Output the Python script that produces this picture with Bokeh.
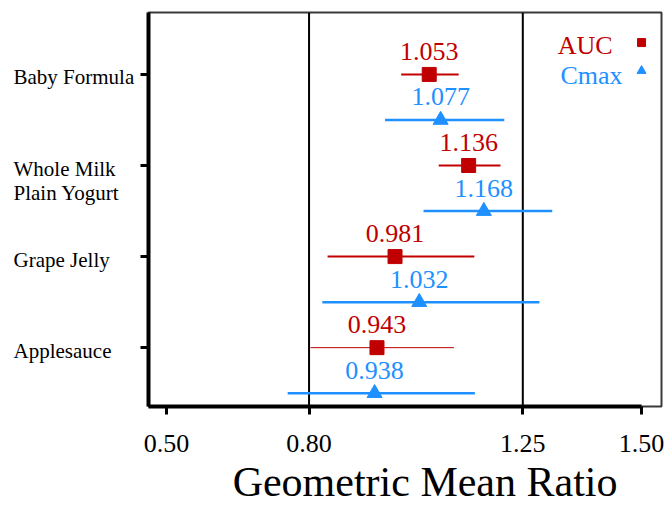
from bokeh.plotting import figure
from bokeh.layouts import row
from bokeh.models import ColumnDataSource, Range1d, FixedTicker, Span, Title
from bokeh.core.properties import value
from bokeh.embed import file_html
from bokeh.resources import INLINE

# ---- data -------------------------------------------------------------
categories = ["Baby Formula", "Whole Milk\nPlain Yogurt", "Grape Jelly", "Applesauce"]

auc_gmr = [1.053, 1.136, 0.981, 0.943]
auc_lo = [0.994, 1.073, 0.839, 0.803]
auc_hi = [1.115, 1.203, 1.148, 1.105]

cmax_gmr = [1.077, 1.168, 1.032, 0.938]
cmax_lo = [0.960, 1.041, 0.828, 0.755]
cmax_hi = [1.211, 1.312, 1.285, 1.149]

x_ticks = [0.50, 0.80, 1.25, 1.50]
x_tick_labels = ["0.50", "0.80", "1.25", "1.50"]
ref_limits = [0.80, 1.25]
x_title = "Geometric Mean Ratio"

# ---- styling / layout -------------------------------------------------
RED = "#C00000"
BLUE = "#1E90FF"
SERIF = "Liberation Serif"

W, H = 667, 506
NAMES_W = 136          # column holding the category names
TOP, BOTTOM = 12, 99

X_START, X_END = 0.462, 1.542
n = len(categories)
cat_y = [n - 1 - i for i in range(n)]          # top to bottom
cmax_y = [y - 0.5 for y in cat_y]
auc_width = [1 if c == "Applesauce" else 2 for c in categories]

y_range = Range1d(-0.646, 3.68)

auc_src = ColumnDataSource(dict(
    y=cat_y, gmr=auc_gmr, lo=auc_lo, hi=auc_hi, w=auc_width,
    label=[f"{v:.3f}" for v in auc_gmr]))
cmax_src = ColumnDataSource(dict(
    y=cmax_y, gmr=cmax_gmr, lo=cmax_lo, hi=cmax_hi,
    label=[f"{v:.3f}" for v in cmax_gmr]))

# ---- category names panel ---------------------------------------------
names = figure(width=NAMES_W, height=H, output_backend="svg", toolbar_location=None,
               x_range=Range1d(0, 1), y_range=y_range,
               min_border_left=0, min_border_right=0,
               min_border_top=TOP, min_border_bottom=BOTTOM)
names.axis.visible = False
names.grid.visible = False
names.outline_line_color = None
names.text(x=[0] * n, y=cat_y, text=categories, text_color="black",
           text_font=value(SERIF), text_font_size="21px",
           text_align="left", text_baseline="top", text_line_height=1.0,
           x_offset=13, y_offset=-9)

# ---- main chart -------------------------------------------------------
p = figure(width=W - NAMES_W, height=H, output_backend="svg", toolbar_location=None,
           x_range=Range1d(X_START, X_END), y_range=y_range,
           min_border_left=12, min_border_right=6,
           min_border_top=TOP, min_border_bottom=BOTTOM)
p.background_fill_color = "white"
p.border_fill_color = "white"
p.outline_line_color = "#3a3a3a"
p.outline_line_width = 2
p.xgrid.visible = False
p.ygrid.visible = False

# reference limits
for lim in ref_limits:
    p.add_layout(Span(location=lim, dimension="height", line_color="black",
                      line_width=2, level="underlay"))

# confidence intervals
p.segment(x0="lo", y0="y", x1="hi", y1="y", source=auc_src,
          line_color=RED, line_width="w")
p.segment(x0="lo", y0="y", x1="hi", y1="y", source=cmax_src,
          line_color=BLUE, line_width=2.5)

# point estimates
p.scatter(x="gmr", y="y", source=auc_src, marker="square", size=14,
          fill_color=RED, line_color=RED)
p.scatter(x="gmr", y="y", source=cmax_src, marker="triangle", size=15,
          fill_color=BLUE, line_color=BLUE)

# value labels
for src, col in ((auc_src, RED), (cmax_src, BLUE)):
    p.text(x="gmr", y="y", text="label", source=src, text_color=col,
           text_font=value(SERIF), text_font_size="26px",
           text_align="center", text_baseline="middle", y_offset=-23)

# legend (text followed by marker)
p.text(x=[1.439], y=[3.318], text=["AUC"], text_color=RED,
       text_font=value(SERIF), text_font_size="26px",
       text_align="right", text_baseline="middle")
p.text(x=[1.460], y=[2.99], text=["Cmax"], text_color=BLUE,
       text_font=value(SERIF), text_font_size="26px",
       text_align="right", text_baseline="middle")
p.scatter(x=[1.5], y=[3.35], marker="square", size=8, color=RED)
p.scatter(x=[1.5], y=[3.04], marker="triangle", size=9, color=BLUE)

# x axis
xa = p.xaxis[0]
xa.ticker = FixedTicker(ticks=x_ticks)
xa.major_label_overrides = {t: s for t, s in zip(x_ticks, x_tick_labels)}
xa.bounds = (X_START, x_ticks[-1])
xa.axis_line_width = 4
xa.axis_line_color = "black"
xa.major_tick_line_width = 3
xa.major_tick_out = 8
xa.major_tick_in = 0
xa.minor_tick_line_color = None
xa.major_label_text_font = SERIF
xa.major_label_text_font_size = "26px"
xa.major_label_text_color = "black"
xa.major_label_standoff = 20

# y axis: tick marks only, the names sit in the panel to the left
ya = p.yaxis[0]
ya.ticker = FixedTicker(ticks=cat_y)
ya.major_label_overrides = {y: "" for y in cat_y}
ya.major_label_standoff = 0
ya.axis_line_width = 4
ya.axis_line_color = "black"
ya.major_tick_line_width = 3
ya.major_tick_out = 8
ya.major_tick_in = 0
ya.minor_tick_line_color = None

# x-axis title, right-aligned under the frame
p.add_layout(Title(text=x_title, align="right", offset=44, standoff=4,
                   text_font=SERIF, text_font_size="42px",
                   text_font_style="normal", text_color="black"), "below")

layout = row(names, p, spacing=0)
open("out.html", "w").write(file_html(layout, INLINE))
